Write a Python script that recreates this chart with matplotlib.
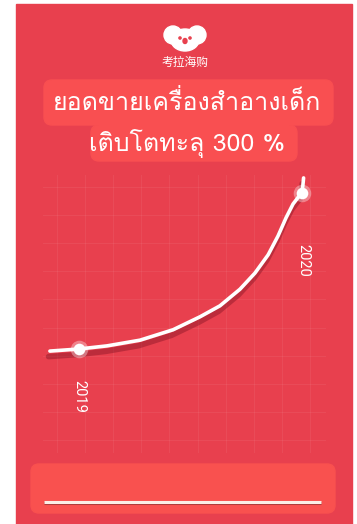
import matplotlib
matplotlib.use("Agg")
import matplotlib.pyplot as plt
import matplotlib.patheffects as pe
from matplotlib.patches import FancyBboxPatch, Rectangle, Ellipse, Circle
from matplotlib import font_manager
from matplotlib.ft2font import FT2Font

# Data: sales index, 2019 = 100
years = [2018.870, 2019.000, 2019.126, 2019.274, 2019.422, 2019.543, 2019.632,
         2019.722, 2019.789, 2019.848, 2019.892, 2019.928, 2019.960, 2019.987,
         2020.000, 2020.004, 2020.007]
sales = [96, 100, 106, 117, 137, 162, 183, 215, 246, 281, 317, 352, 379, 394,
         400, 415, 429]
point_years = [2019, 2020]
point_sales = [100, 400]
point_labels = ["2019", "2020"]
title_lines = ["ยอดขายเครื่องสำอางเด็ก", "เติบโตทะลุ 300 %"]
brand = "考拉海购"

RED = "#e8404e"
BOX = "#f94f51"


def has_glyph(path, code):
    try:
        return code in FT2Font(path).get_charmap()
    except Exception:
        return False


thai_font = next((f.name for f in font_manager.fontManager.ttflist
                  if has_glyph(f.fname, 0x0E22)), "DejaVu Sans")

W, H = 357, 524
fig = plt.figure(figsize=(W / 100, H / 100), dpi=100)
fig.patch.set_facecolor("white")

# background axes in pixel units
bg = fig.add_axes([0, 0, 1, 1])
bg.set_xlim(0, W)
bg.set_ylim(H, 0)
bg.axis("off")

bg.add_patch(Rectangle((16, 4), 336, 522, color=RED, zorder=0))

# koala logo
bg.add_patch(Ellipse((185, 40), 28, 22, color="white", zorder=2))
bg.add_patch(Circle((173, 35), 9, color="white", zorder=2))
bg.add_patch(Circle((197, 35), 9, color="white", zorder=2))
bg.add_patch(Ellipse((185, 41), 4, 5, color=RED, zorder=3))
bg.add_patch(Circle((180, 38), 1.1, color=RED, zorder=3))
bg.add_patch(Circle((190, 38), 1.1, color=RED, zorder=3))
bg.text(185, 62, brand, color="white", fontsize=8.5, ha="center", va="center",
        family=["Noto Sans CJK SC", "DejaVu Sans"])

# title boxes
bg.add_patch(FancyBboxPatch((44, 80), 289, 45, boxstyle="round,pad=0,rounding_size=8",
                            color=BOX, zorder=1))
bg.add_patch(FancyBboxPatch((91, 125), 206, 36, boxstyle="round,pad=0,rounding_size=8",
                            color=BOX, zorder=1))
bg.text(187, 103, title_lines[0], color="white", fontsize=18, ha="center",
        va="center", family=[thai_font, "DejaVu Sans"], zorder=3)
bg.text(187, 144, title_lines[1], color="white", fontsize=18, ha="center",
        va="center", family=[thai_font, "DejaVu Sans"], zorder=3)

# faint grid
grid_c = (1, 1, 1, 0.06)
for i in range(10):
    x = 57 + 28.1 * i
    bg.plot([x, x], [175, 452], color=grid_c, lw=0.8, zorder=1)
    y = 187 + 28.1 * i
    bg.plot([43, 325], [y, y], color=grid_c, lw=0.8, zorder=1)

# bottom box with line
bg.add_patch(FancyBboxPatch((31, 464), 304, 49, boxstyle="round,pad=0,rounding_size=8",
                            color="#f9514f", zorder=1))
bg.plot([44, 321], [502, 502], color="#fbeee6", lw=2.2, solid_capstyle="butt",
        zorder=2, path_effects=[pe.SimpleLineShadow(offset=(0, -1), alpha=0.3),
                                pe.Normal()])

# chart axes, mapped so that data lines up with the grid
ax = fig.add_axes([43 / W, (H - 452) / H, 282 / W, 277 / H])
ax.set_xlim(2018.839, 2020.103)
ax.set_ylim(100 - (452 - 349) * 300 / 156, 100 + (349 - 175) * 300 / 156)
ax.axis("off")
ax.patch.set_alpha(0)

ax.plot(years, sales, color="white", lw=2.6, solid_capstyle="round",
        solid_joinstyle="round", clip_on=False, zorder=3,
        path_effects=[pe.SimpleLineShadow(offset=(-1, -4), shadow_color="#7a1020",
                                          alpha=0.4, linewidth=4),
                      pe.Normal()])
ax.scatter(point_years, point_sales, s=160, color="white", alpha=0.35,
           zorder=4, clip_on=False, linewidths=0)
ax.scatter(point_years, point_sales, s=70, color="white", zorder=5,
           clip_on=False, linewidths=0)

ax.annotate(point_labels[0], (point_years[0], point_sales[0]), xytext=(0, -22),
            textcoords="offset points", rotation=-90, ha="center", va="top",
            color="white", fontsize=10.5, family="Roboto")
ax.annotate(point_labels[1], (point_years[1], point_sales[1]), xytext=(1, -37),
            textcoords="offset points", rotation=-90, ha="center", va="top",
            color="white", fontsize=10.5, family="Roboto")

fig.savefig("out.png", dpi=100, facecolor="white")
